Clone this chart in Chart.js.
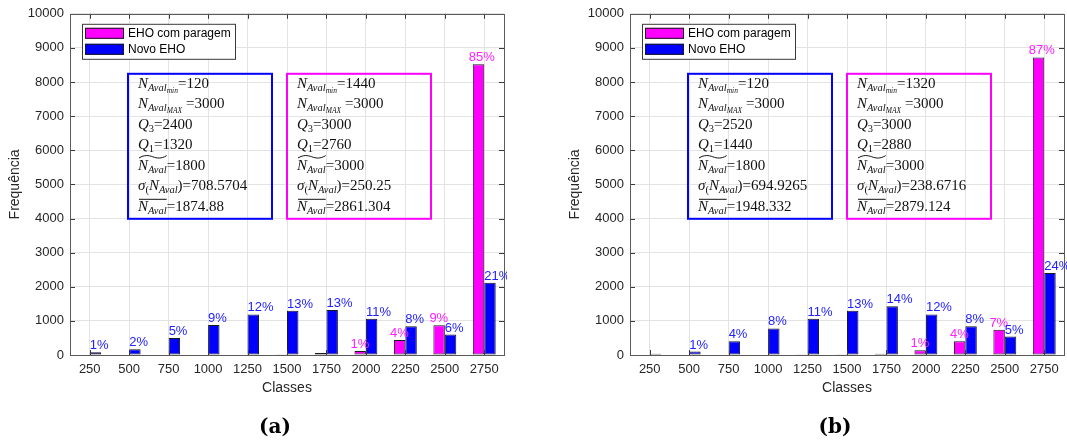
<!DOCTYPE html>
<html>
<head>
<meta charset="utf-8">
<script src="https://cdn.jsdelivr.net/npm/chart.js@4/dist/chart.umd.min.js"></script>
<style>
  html, body { margin: 0; padding: 0; background: #fff; overflow: hidden; }
  #wrap { position: relative; width: 1067px; height: 444px; }
  canvas { position: absolute; top: 0; }
</style>
</head>
<body>
<div id="wrap">
  <canvas id="chartA" width="507" height="444" style="left:0px"></canvas>
  <canvas id="chartB" width="507" height="444" style="left:560px"></canvas>
</div>
<script>
// Histogram classes (x axis)
const classes = ['250', '500', '750', '1000', '1250', '1500', '1750', '2000', '2250', '2500', '2750'];
const yTicks = [0, 1000, 2000, 3000, 4000, 5000, 6000, 7000, 8000, 9000, 10000];

// Panel (a): frequencies per class
const paragemA = [0, 0, 0, 0, 0, 20, 60, 120, 440, 870, 8520];
const novoA    = [80, 170, 500, 880, 1190, 1300, 1320, 1060, 840, 600, 2120];
const paragemPctA = [null, null, null, null, null, null, null, '1%', '4%', '9%', '85%'];
const novoPctA    = ['1%', '2%', '5%', '9%', '12%', '13%', '13%', '11%', '8%', '6%', '21%'];

// Panel (b): frequencies per class
const paragemB = [0, 0, 0, 0, 10, 10, 40, 140, 400, 740, 8720];
const novoB    = [40, 100, 400, 780, 1060, 1300, 1430, 1190, 840, 540, 2400];
const paragemPctB = [null, null, null, null, null, null, null, '1%', '4%', '7%', '87%'];
const novoPctB    = [null, '1%', '4%', '8%', '11%', '13%', '14%', '12%', '8%', '5%', '24%'];

// Summary statistics: min, MAX, Q3, Q1, median, std, mean
const statsNovoA    = [120, 3000, 2400, 1320, 1800, 708.5704, 1874.88];
const statsParagemA = [1440, 3000, 3000, 2760, 3000, 250.25, 2861.304];
const statsNovoB    = [120, 3000, 2520, 1440, 1800, 694.9265, 1948.332];
const statsParagemB = [1320, 3000, 3000, 2880, 3000, 238.6716, 2879.124];

const seriesNames = ['EHO com paragem', 'Novo EHO'];
const MAGENTA = '#ff00ff';
const BLUE = '#0000ff';
const AXIS_TXT = '#262626';
const SANS = '"Liberation Sans", Arial, Helvetica, sans-serif';
const SERIF = '"Liberation Serif", "Times New Roman", serif';

Chart.defaults.font.family = SANS;
Chart.defaults.color = AXIS_TXT;

// Axes box with inward tick marks on all four sides
const framePlugin = {
  id: 'frame',
  afterDatasetsDraw(chart) {
    const { ctx, chartArea: a, scales: { x, y } } = chart;
    const L = 5;
    ctx.save();
    ctx.strokeStyle = '#3a3a3a';
    ctx.lineWidth = 1;
    ctx.beginPath();
    y.ticks.forEach((t, i) => {
      const py = Math.round(y.getPixelForTick(i)) + 0.5;
      ctx.moveTo(a.left, py); ctx.lineTo(a.left + L, py);
      ctx.moveTo(a.right, py); ctx.lineTo(a.right - L, py);
    });
    x.ticks.forEach((t, i) => {
      const px = Math.round(x.getPixelForTick(i)) + 0.5;
      ctx.moveTo(px, a.bottom); ctx.lineTo(px, a.bottom - L);
      ctx.moveTo(px, a.top); ctx.lineTo(px, a.top + L);
    });
    ctx.stroke();
    ctx.strokeStyle = '#5a5a5a';
    ctx.strokeRect(Math.round(a.left) + 0.5, Math.round(a.top) + 0.5,
                   Math.round(a.right - a.left), Math.round(a.bottom - a.top));
    ctx.restore();
  }
};

// Percentage labels above the bars
const pctPlugin = {
  id: 'pctLabels',
  afterDatasetsDraw(chart, args, opts) {
    const { ctx } = chart;
    ctx.save();
    ctx.font = '13px ' + SANS;
    ctx.textAlign = 'left';
    ctx.textBaseline = 'alphabetic';
    chart.data.datasets.forEach((ds, di) => {
      const labels = opts.labels[di];
      const meta = chart.getDatasetMeta(di);
      ctx.fillStyle = opts.colors[di];
      meta.data.forEach((bar, i) => {
        const txt = labels[i];
        if (!txt) return;
        const left = bar.x - bar.width / 2 + opts.shift[di];
        ctx.fillText(txt, left, bar.y - 3);
      });
    });
    ctx.restore();
  }
};

// Framed statistics boxes with math-style text
function statRows(v) {
  const NA = [{ t: 'N', it: 1, mark: 1 }, { t: 'Aval', it: 1, s: 0.7, dy: 3, mark: 1 }];
  return [
    { segs: [...NA, { t: 'min', it: 1, s: 0.5, dy: 5 }, { t: '=' + v[0] }] },
    { segs: [...NA, { t: 'MAX', it: 1, s: 0.5, dy: 5, gap: 4 }, { t: '=' + v[1] }] },
    { segs: [{ t: 'Q', it: 1 }, { t: '3', s: 0.7, dy: 3 }, { t: '=' + v[2] }] },
    { segs: [{ t: 'Q', it: 1 }, { t: '1', s: 0.7, dy: 3 }, { t: '=' + v[3] }] },
    { segs: [...NA, { t: '=' + v[4] }], accent: 'tilde' },
    { segs: [{ t: 'σ', it: 1 }, { t: '(', s: 0.7, dy: 3 }, { t: 'N', it: 1 },
             { t: 'Aval', it: 1, s: 0.7, dy: 3 }, { t: ')' }, { t: '=' + v[5] }] },
    { segs: [...NA, { t: '=' + v[6] }], accent: 'bar' }
  ];
}

function drawRich(ctx, x, y, segs, size) {
  let cx = x;
  let span = null;
  segs.forEach(s => {
    const fs = size * (s.s || 1);
    ctx.font = (s.it ? 'italic ' : '') + fs + 'px ' + SERIF;
    const w = ctx.measureText(s.t).width;
    ctx.fillText(s.t, cx, y + (s.dy || 0));
    if (s.mark) {
      if (!span) span = [cx, cx + w];
      span[1] = cx + w;
    }
    cx += w + (s.gap || 0);
  });
  return span;
}

const statPlugin = {
  id: 'statBoxes',
  afterDatasetsDraw(chart, args, opts) {
    const { ctx, chartArea: a } = chart;
    ctx.save();
    opts.boxes.forEach(b => {
      const bx = a.left + b.dx, by = a.top + opts.dy;
      ctx.strokeStyle = b.color;
      ctx.lineWidth = 2;
      ctx.strokeRect(bx, by, opts.w, opts.h);
      ctx.fillStyle = '#111';
      ctx.strokeStyle = '#111';
      ctx.textBaseline = 'alphabetic';
      ctx.textAlign = 'left';
      statRows(b.values).forEach((row, r) => {
        const base = by + opts.first + r * opts.gap;
        const span = drawRich(ctx, bx + opts.pad, base, row.segs, opts.size);
        if (row.accent && span) {
          ctx.lineWidth = 1;
          ctx.beginPath();
          if (row.accent === 'bar') {
            ctx.moveTo(span[0] + 1, base - 11.5);
            ctx.lineTo(span[1], base - 11.5);
          } else {
            const x0 = span[0] + 1, x1 = span[1], w = x1 - x0, yy = base - 13;
            ctx.moveTo(x0, yy + 1.2);
            ctx.bezierCurveTo(x0 + w * 0.2, yy - 2.2, x0 + w * 0.35, yy - 1.5, x0 + w * 0.5, yy);
            ctx.bezierCurveTo(x0 + w * 0.65, yy + 1.5, x0 + w * 0.8, yy + 2.2, x1, yy - 1.2);
          }
          ctx.stroke();
        }
      });
    });
    ctx.restore();
  }
};

// Legend drawn inside the plot area
const boxLegendPlugin = {
  id: 'boxLegend',
  afterDraw(chart, args, opts) {
    const { ctx, chartArea: a } = chart;
    const lx = a.left + opts.dx, ly = a.top + opts.dy;
    ctx.save();
    ctx.fillStyle = '#fff';
    ctx.fillRect(lx, ly, opts.w, opts.h);
    ctx.strokeStyle = '#3a3a3a';
    ctx.lineWidth = 1;
    ctx.strokeRect(lx + 0.5, ly + 0.5, opts.w, opts.h);
    ctx.font = '12px ' + SANS;
    ctx.textBaseline = 'middle';
    ctx.textAlign = 'left';
    chart.data.datasets.forEach((ds, i) => {
      const py = ly + 4 + i * 16;
      ctx.fillStyle = ds.backgroundColor;
      ctx.fillRect(lx + 3, py, 39, 11);
      ctx.strokeStyle = '#1a1a1a';
      ctx.strokeRect(lx + 3.5, py + 0.5, 38, 10);
      ctx.fillStyle = '#000';
      ctx.fillText(ds.label, lx + 46, py + 6);
    });
    ctx.restore();
  }
};

// Panel caption below the x axis
const tagPlugin = {
  id: 'panelTag',
  afterDraw(chart, args, opts) {
    const { ctx, chartArea: a } = chart;
    ctx.save();
    ctx.font = 'bold 20px "DejaVu Serif", serif';
    ctx.fillStyle = '#000';
    ctx.textAlign = 'center';
    ctx.textBaseline = 'alphabetic';
    ctx.fillText(opts.text, (a.left + a.right) / 2 + opts.dx, opts.y);
    ctx.restore();
  }
};

function makePanel(id, paragem, novo, pctParagem, pctNovo, statsNovo, statsParagem, tag) {
  return new Chart(document.getElementById(id), {
    type: 'bar',
    data: {
      labels: classes,
      datasets: [
        { label: seriesNames[0], data: paragem, backgroundColor: MAGENTA,
          borderColor: '#1a1a1a', borderWidth: 1, borderSkipped: false },
        { label: seriesNames[1], data: novo, backgroundColor: BLUE,
          borderColor: '#1a1a1a', borderWidth: 1, borderSkipped: false }
      ]
    },
    options: {
      responsive: false,
      animation: false,
      devicePixelRatio: 1,
      datasets: { bar: { categoryPercentage: 0.58, barPercentage: 1.0 } },
      layout: { padding: { top: 13, right: 3, left: 0, bottom: 0 } },
      scales: {
        x: {
          grid: { color: '#e3e3e3', drawTicks: false, offset: false },
          border: { display: false },
          ticks: { padding: 7, font: { size: 13 }, color: AXIS_TXT, maxRotation: 0 },
          title: { display: true, text: 'Classes', font: { size: 14 }, color: AXIS_TXT,
                   padding: { top: 0, bottom: 47.6 } },
          afterFit(s) { s.height = 89; }
        },
        y: {
          min: 0, max: 10000,
          afterBuildTicks(s) { s.ticks = yTicks.map(v => ({ value: v })); },
          grid: { color: '#e3e3e3', drawTicks: false },
          border: { display: false },
          ticks: { padding: 6, font: { size: 13 }, color: AXIS_TXT,
                   callback: v => String(v) },
          title: { display: true, text: 'Frequência', font: { size: 14 }, color: AXIS_TXT,
                   padding: { top: 6.6, bottom: 0 } },
          afterFit(s) { s.width = 70; }
        }
      },
      plugins: {
        legend: { display: false },
        tooltip: { enabled: false },
        pctLabels: { labels: [pctParagem, pctNovo], colors: ['#ff22ff', '#2222ff'], shift: [-4, 0] },
        statBoxes: {
          dy: 60, w: 144, h: 145, pad: 10, first: 14, gap: 20.5, size: 15,
          boxes: [
            { color: BLUE, dx: 58, values: statsNovo },
            { color: MAGENTA, dx: 217, values: statsParagem }
          ]
        },
        boxLegend: { dx: 12, dy: 10, w: 153, h: 35 },
        panelTag: { text: tag, y: 433, dx: -12 }
      }
    },
    plugins: [framePlugin, pctPlugin, statPlugin, boxLegendPlugin, tagPlugin]
  });
}

makePanel('chartA', paragemA, novoA, paragemPctA, novoPctA, statsNovoA, statsParagemA, '(a)');
makePanel('chartB', paragemB, novoB, paragemPctB, novoPctB, statsNovoB, statsParagemB, '(b)');
</script>
</body>
</html>
